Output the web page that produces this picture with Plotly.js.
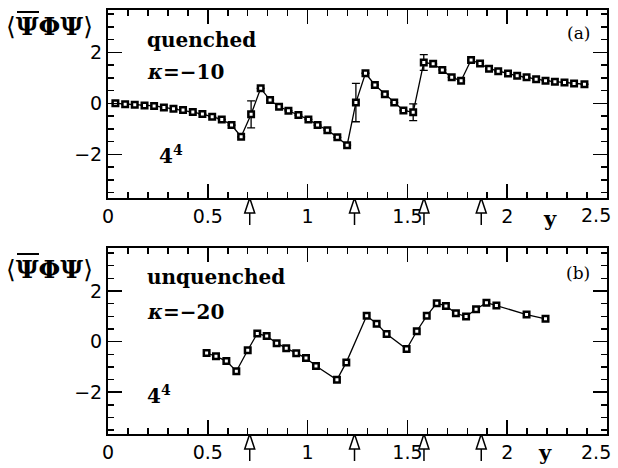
<!DOCTYPE html>
<html>
<head>
<meta charset="utf-8">
<script src="https://cdn.plot.ly/plotly-3.0.1.min.js"></script>
<style>html,body{margin:0;padding:0;background:#fff;}#plot{width:618px;height:468px;}</style>
</head>
<body>
<div id="plot"></div>
<script>
// Panel (a): quenched, kappa = -10
const xA = [0.037,0.086,0.134,0.183,0.231,0.280,0.328,0.376,0.425,0.473,0.522,0.570,0.619,0.667,0.717,0.765,0.812,0.857,0.904,0.954,1.004,1.050,1.099,1.149,1.198,1.242,1.290,1.337,1.387,1.434,1.480,1.529,1.582,1.629,1.675,1.722,1.769,1.819,1.864,1.909,1.955,2.004,2.050,2.097,2.145,2.192,2.239,2.287,2.335,2.387];
const yA = [0,-0.03,-0.05,-0.08,-0.10,-0.16,-0.21,-0.26,-0.34,-0.42,-0.52,-0.63,-0.85,-1.31,-0.43,0.59,0.13,-0.13,-0.29,-0.46,-0.63,-0.85,-1.05,-1.33,-1.64,0.03,1.18,0.72,0.36,0.03,-0.28,-0.35,1.60,1.55,1.31,1.02,0.89,1.70,1.56,1.36,1.26,1.17,1.08,1.02,0.95,0.89,0.85,0.82,0.78,0.75];
const eA = [0,0,0,0,0,0,0,0,0,0,0,0,0,0,0.53,0,0,0,0,0,0,0,0,0,0,0.75,0,0,0,0,0,0.33,0.31,0,0,0,0,0,0,0,0,0,0,0,0,0,0,0,0,0];
// Panel (b): unquenched, kappa = -20
const xB = [0.494,0.541,0.593,0.643,0.700,0.748,0.795,0.845,0.893,0.943,0.992,1.042,1.147,1.194,1.296,1.346,1.396,1.496,1.547,1.597,1.647,1.693,1.743,1.794,1.844,1.896,1.946,2.097,2.192];
const yB = [-0.45,-0.58,-0.77,-1.17,-0.34,0.32,0.22,-0.06,-0.26,-0.46,-0.65,-0.96,-1.51,-0.82,1.02,0.71,0.30,-0.29,0.41,1.02,1.52,1.41,1.12,0.99,1.28,1.54,1.43,1.07,0.90];
// Arrow positions under the x axes
const arrowX = [0.71,1.235,1.583,1.87];
const xTicks = [0,0.5,1,1.5,2,2.5];
const xTickText = ['0','0.5','1','1.5','2','2.5'];
const yTicks = [-2,0,2];

const yRangeA = [-3.71,3.66];
const yRangeB = [-3.65,3.70];

const markerStyle = {symbol:'square', size:5.5, color:'#fff', line:{color:'#000', width:2.5}};
const lineStyle = {color:'#000', width:1.3};

// open arrows drawn in thin invisible strips just below each panel (strip y range [0,1])
const headHalfWidth = 0.025; // in x units (about 5 px)
const arrX = [], arrY = [];
arrowX.forEach(v => {
  arrX.push(v, v - headHalfWidth, v + headHalfWidth, v, null, v, v, null);
  arrY.push(1, 0.5, 0.5, 1, null, 0.5, 0.1, null);
});

const traces = [
  {x:xA, y:yA, xaxis:'x', yaxis:'y', mode:'lines+markers', line:lineStyle, marker:markerStyle,
   error_y:{type:'data', array:eA, visible:true, color:'#000', thickness:1.3, width:4}, showlegend:false, hoverinfo:'none'},
  {x:xB, y:yB, xaxis:'x2', yaxis:'y2', mode:'lines+markers', line:lineStyle, marker:markerStyle, showlegend:false, hoverinfo:'none'},
  {x:arrX, y:arrY, xaxis:'x', yaxis:'y3', mode:'lines', line:{color:'#000', width:1.5}, showlegend:false, hoverinfo:'none'},
  {x:arrX, y:arrY, xaxis:'x2', yaxis:'y4', mode:'lines', line:{color:'#000', width:1.5}, showlegend:false, hoverinfo:'none'}
];

// the last label (at the right edge) is drawn as an annotation so it is not dropped
const lastIdx = xTickText.length - 1;
const axisTickText = xTickText.map((t, i) => i === lastIdx ? '' : t);
const tickFont = {family:'DejaVu Sans', size:19, color:'#000'};

function xAxis(anchor){
  return {anchor:anchor, range:[0,2.5], tickvals:xTicks, ticktext:axisTickText,
    ticks:'inside', ticklen:14, tickwidth:1.5, tickcolor:'#000',
    minor:{dtick:0.1, ticks:'inside', ticklen:6},
    showline:true, linewidth:2, linecolor:'#000', mirror:'ticks', showgrid:false, zeroline:false,
    tickfont:tickFont};
}
function yAxis(anchor, dom, rng){
  return {anchor:anchor, domain:dom, range:rng, tickvals:yTicks,
    ticks:'inside', ticklen:14, tickwidth:1.5, tickcolor:'#000',
    minor:{dtick:0.5, ticks:'inside', ticklen:6},
    showline:true, linewidth:2, linecolor:'#000', mirror:'ticks', showgrid:false, zeroline:false,
    tickfont:tickFont};
}
function stripAxis(dom){
  return {domain:dom, range:[0,1], visible:false, showgrid:false, zeroline:false, anchor:'free', position:0};
}

const txtFont = {family:'DejaVu Serif', size:20, color:'#000'};
const ann = [];
function label(text, xr, yr, x, y, xanchor, font){
  ann.push({text:text, xref:xr, yref:yr, x:x, y:y, xanchor:xanchor, yanchor:'middle', showarrow:false, font:font});
}
label('<b>quenched</b>', 'x domain', 'y domain', 0.075, 0.84, 'left', txtFont);
label('<b><i>κ</i>=−10</b>', 'x domain', 'y domain', 0.075, 0.67, 'left', txtFont);
label('<b>4<sup>4</sup></b>', 'x domain', 'y domain', 0.098, 0.23, 'left', txtFont);
label('(a)', 'x domain', 'y domain', 0.97, 0.878, 'right', {family:'DejaVu Serif', size:17, color:'#000'});
label('<b>unquenched</b>', 'x2 domain', 'y2 domain', 0.075, 0.846, 'left', txtFont);
label('<b><i>κ</i>=−20</b>', 'x2 domain', 'y2 domain', 0.075, 0.658, 'left', txtFont);
label('<b>4<sup>4</sup></b>', 'x2 domain', 'y2 domain', 0.075, 0.21, 'left', txtFont);
label('(b)', 'x2 domain', 'y2 domain', 0.97, 0.867, 'right', {family:'DejaVu Serif', size:17, color:'#000'});
const yLab = '⟨<b>ΨΦΨ</b>⟩';
const yLabFont = {family:'DejaVu Serif', size:25, color:'#000'};
label(yLab, 'paper', 'paper', -0.2084, 0.9626, 'left', yLabFont);
label(yLab, 'paper', 'paper', -0.2084, 0.4295, 'left', yLabFont);
label('<b>y</b>', 'x', 'y domain', 2.215, -0.11, 'center', {family:'DejaVu Serif', size:21, color:'#000'});
label('<b>y</b>', 'x2', 'y2 domain', 2.19, -0.097, 'center', {family:'DejaVu Serif', size:21, color:'#000'});
label(xTickText[lastIdx], 'x domain', 'y domain', 1.012, -0.09, 'right', tickFont);
label(xTickText[lastIdx], 'x2 domain', 'y2 domain', 1.012, -0.097, 'right', tickFont);

// overbar on the first Psi of each axis label
const shapes = [0.9956, 0.4625].map(yy => ({type:'line', xref:'paper', yref:'paper', x0:-0.1824, x1:-0.1383, y0:yy, y1:yy, line:{color:'#000', width:2}}));

const layout = {
  width:618, height:468,
  margin:{l:108, r:11, t:10, b:4},
  paper_bgcolor:'#fff', plot_bgcolor:'#fff',
  xaxis:xAxis('y'), yaxis:yAxis('x', [0.5859,1], yRangeA),
  xaxis2:xAxis('y2'), yaxis2:yAxis('x2', [0.0661,0.4758], yRangeB),
  yaxis3:stripAxis([0.5198,0.5859]), yaxis4:stripAxis([0,0.0661]),
  annotations:ann, shapes:shapes, showlegend:false
};
Plotly.newPlot('plot', traces, layout, {staticPlot:true, displayModeBar:false});
</script>
</body>
</html>
